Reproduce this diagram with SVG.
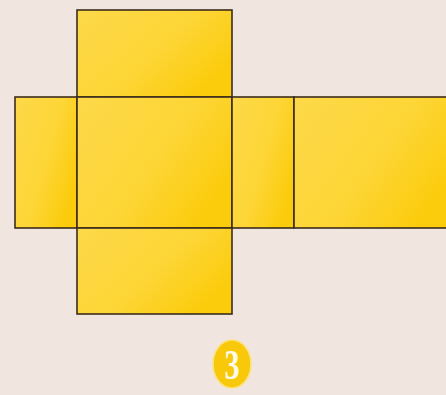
<svg xmlns="http://www.w3.org/2000/svg" width="446" height="395" viewBox="0 0 446 395">
<defs>
<linearGradient id="yg" x1="0" y1="0" x2="1" y2="0.6">
<stop offset="0" stop-color="#fdd94a"/>
<stop offset="0.6" stop-color="#fdd535"/>
<stop offset="1" stop-color="#fbcc0c"/>
</linearGradient>
<style>
.face{fill:url(#yg);stroke:#3b2c1c;stroke-width:1.6}
.num{font-family:"Liberation Serif",serif;font-weight:bold;font-size:42px;fill:#fffbe8}
</style>
</defs>
<rect width="446" height="395" fill="#f1e5e0"/>
<g id="face-top"><rect class="face" x="77" y="10" width="155" height="87"/></g>
<g id="face-left"><rect class="face" x="15" y="97" width="62" height="131"/></g>
<g id="face-center"><rect class="face" x="77" y="97" width="155" height="131"/></g>
<g id="face-right-small"><rect class="face" x="232" y="97" width="62" height="131"/></g>
<g id="face-right-long"><rect class="face" x="294" y="97" width="160" height="131"/></g>
<g id="face-bottom"><rect class="face" x="77" y="228" width="155" height="86"/></g>
<g id="label">
<ellipse cx="232" cy="364" rx="19" ry="24" fill="#f8c90a" stroke="#fbe27a" stroke-width="1.5"/>
<text class="num" x="232" y="379" text-anchor="middle" transform="translate(232 0) scale(0.72 1) translate(-232 0)">3</text>
</g>
</svg>
